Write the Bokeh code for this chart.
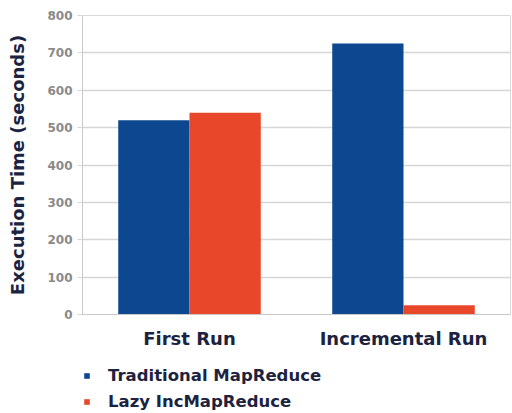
from bokeh.plotting import figure
from bokeh.layouts import column
from bokeh.models import (FactorRange, Range1d, FixedTicker, Legend, LegendItem,
                          ColumnDataSource)
from bokeh.transform import dodge
from bokeh.embed import file_html
from bokeh.resources import INLINE

# Execution time per run type (seconds)
categories = ["First Run", "Incremental Run"]
traditional = [520, 725]
lazy_inc = [540, 25]
series_names = ["Traditional MapReduce", "Lazy IncMapReduce"]
y_ticks = [0, 100, 200, 300, 400, 500, 600, 700, 800]

BLUE = "#0d478f"
RED = "#e8472a"
TEXT = "#1c2340"
GRID = "#d6d6d6"

source = ColumnDataSource(data=dict(cat=categories, trad=traditional, lazy=lazy_inc))

p = figure(
    width=512, height=365,
    x_range=FactorRange(factors=categories),
    y_range=Range1d(0, 800),
    output_backend="svg", toolbar_location=None,
    min_border_left=82, min_border_right=2, min_border_top=15, min_border_bottom=51,
)
p.background_fill_color = "white"
p.border_fill_color = "white"
p.outline_line_color = "#dadada"
p.outline_line_width = 1

bar_w = 0.333
p.vbar(x=dodge("cat", -bar_w / 2, range=p.x_range), top="trad", width=bar_w,
       source=source, fill_color=BLUE, line_color=None)
p.vbar(x=dodge("cat", bar_w / 2, range=p.x_range), top="lazy", width=bar_w,
       source=source, fill_color=RED, line_color=None)

# Grid
p.xgrid.grid_line_color = None
p.ygrid.grid_line_color = GRID
p.ygrid.grid_line_width = 1.5

# Y axis
p.yaxis.ticker = FixedTicker(ticks=y_ticks)
p.yaxis.axis_label = "Execution Time (seconds)"
p.yaxis.axis_label_text_font = "DejaVu Sans"
p.yaxis.axis_label_text_font_style = "bold"
p.yaxis.axis_label_text_font_size = "18px"
p.yaxis.axis_label_text_color = TEXT
p.yaxis.axis_label_standoff = 16
p.yaxis.major_label_text_font = "DejaVu Sans"
p.yaxis.major_label_text_font_style = "bold"
p.yaxis.major_label_text_font_size = "12px"
p.yaxis.major_label_text_color = "#8a8a8a"
p.yaxis.major_label_standoff = 5
p.yaxis.axis_line_color = "#c8c8c8"
p.yaxis.major_tick_line_color = GRID
p.yaxis.major_tick_out = 5
p.yaxis.major_tick_in = 0
p.yaxis.minor_tick_line_color = None

# X axis
p.xaxis.axis_line_color = "#c8c8c8"
p.xaxis.major_tick_line_color = None
p.xaxis.minor_tick_line_color = None
p.xaxis.major_label_text_font = "DejaVu Sans"
p.xaxis.major_label_text_font_style = "bold"
p.xaxis.major_label_text_font_size = "18px"
p.xaxis.major_label_text_color = TEXT
p.xaxis.major_label_standoff = 7

# Legend strip under the chart (key glyphs sit outside its visible range)
lg = figure(
    width=512, height=48,
    x_range=Range1d(0, 1), y_range=Range1d(0, 1),
    x_axis_type=None, y_axis_type=None,
    output_backend="svg", toolbar_location=None,
    min_border_left=0, min_border_right=0, min_border_top=0, min_border_bottom=0,
)
lg.outline_line_color = None
lg.xgrid.grid_line_color = None
lg.ygrid.grid_line_color = None
key_trad = lg.vbar(x=[-5], top=[-5], width=0.1, fill_color=BLUE, line_color=None)
key_lazy = lg.vbar(x=[-5], top=[-5], width=0.1, fill_color=RED, line_color=None)

legend = Legend(
    items=[LegendItem(label=series_names[0], renderers=[key_trad], index=0),
           LegendItem(label=series_names[1], renderers=[key_lazy], index=0)],
    location=(1, 2),
    glyph_width=7, glyph_height=7,
    label_standoff=18, label_height=20, spacing=6,
    padding=0, margin=0,
    border_line_color=None, background_fill_alpha=0,
    label_text_font="DejaVu Sans", label_text_font_style="bold",
    label_text_font_size="16.5px", label_text_color=TEXT,
)
lg.add_layout(legend)

layout = column(p, lg, spacing=0)
open("out.html", "w").write(file_html(layout, INLINE))
